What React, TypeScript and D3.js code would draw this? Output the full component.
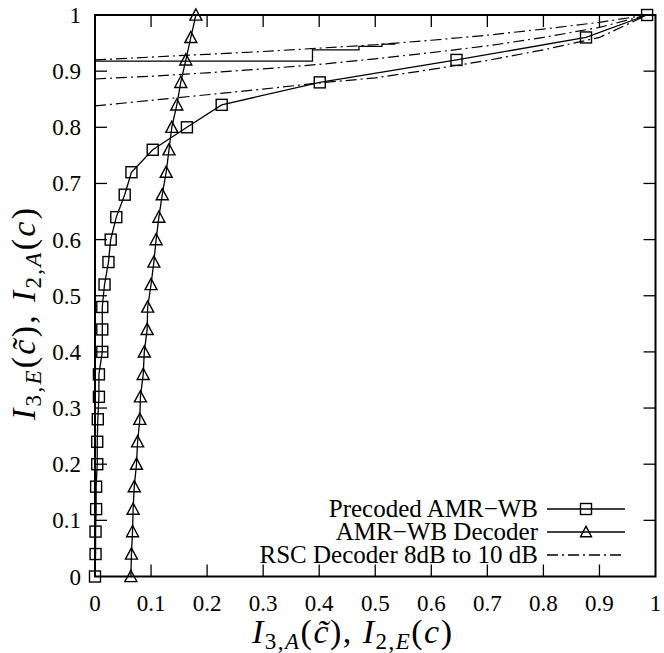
import React from "react";
import * as d3 from "d3";

const W = 664;
const H = 653;

const yLevels = [0, 0.04, 0.08, 0.12, 0.16, 0.2, 0.24, 0.28, 0.32, 0.36, 0.4, 0.44, 0.48, 0.52, 0.56, 0.6, 0.64, 0.68, 0.72, 0.76, 0.8, 0.84, 0.88, 0.92, 0.96, 1.0];
const amrDecoderX = [0.064, 0.065, 0.067, 0.068, 0.070, 0.074, 0.076, 0.080, 0.081, 0.086, 0.088, 0.093, 0.094, 0.100, 0.105, 0.109, 0.114, 0.120, 0.127, 0.132, 0.137, 0.146, 0.153, 0.162, 0.171, 0.180];
const precodedX = [0.000, 0.001, 0.001, 0.002, 0.002, 0.004, 0.004, 0.005, 0.007, 0.007, 0.013, 0.013, 0.013, 0.017, 0.024, 0.028, 0.038, 0.053, 0.065, 0.103, 0.164, 0.226, 0.401, 0.645, 0.876, 0.985];

const rscX = [0, 0.1, 0.2, 0.3, 0.4, 0.5, 0.6, 0.7, 0.8, 0.9, 0.985];
const rsc8dB = [0.838, 0.848, 0.858, 0.868, 0.879, 0.888, 0.903, 0.919, 0.938, 0.960, 1.0];
const rsc9dB = [0.886, 0.891, 0.897, 0.904, 0.912, 0.922, 0.933, 0.945, 0.960, 0.978, 1.0];
const rsc10dB = [0.920, 0.925, 0.930, 0.935, 0.941, 0.947, 0.955, 0.964, 0.975, 0.987, 1.0];

const trajX = [0, 0.388, 0.388, 0.471, 0.471, 0.512, 0.512, 0.536];
const trajY = [0.918, 0.918, 0.938, 0.938, 0.944, 0.944, 0.948, 0.948];

const tickValues = [0, 0.1, 0.2, 0.3, 0.4, 0.5, 0.6, 0.7, 0.8, 0.9, 1];
const tickLabels = ["0", "0.1", "0.2", "0.3", "0.4", "0.5", "0.6", "0.7", "0.8", "0.9", "1"];

const legendLabels = ["Precoded AMR\u2212WB", "AMR\u2212WB Decoder", "RSC Decoder 8dB to 10 dB"];

const FONT = '"Liberation Serif", serif';
const DASH = "11,4,2,4";

const x = d3.scaleLinear().domain([0, 1]).range([95, 655.5]);
const y = d3.scaleLinear().domain([0, 1]).range([576.5, 15]);

type Pt = [number, number];
const line = d3.line<Pt>().x((d) => x(d[0])).y((d) => y(d[1]));

const zip = (a: number[], b: number[]): Pt[] => a.map((v, i) => [v, b[i]] as Pt);

const txt: React.CSSProperties = { fontFamily: FONT };

function Square({ cx, cy, s = 11 }: { cx: number; cy: number; s?: number }) {
  return <rect x={cx - s / 2} y={cy - s / 2} width={s} height={s} fill="none" stroke="#000" strokeWidth={1.4} />;
}
function Triangle({ cx, cy, s = 12 }: { cx: number; cy: number; s?: number }) {
  const h = s * 0.85;
  const p = `${cx},${cy - h / 2 - 1} ${cx - s / 2},${cy + h / 2} ${cx + s / 2},${cy + h / 2}`;
  return <polygon points={p} fill="none" stroke="#000" strokeWidth={1.4} strokeLinejoin="miter" />;
}

function MathTitle({ a, b }: { a: string; b: string }) {
  const sub = 23;
  return (
    <>
      <tspan fontStyle="italic" style={txt}>I</tspan>
      <tspan fontSize={sub} dy={6} style={txt}>3,</tspan>
      <tspan fontSize={sub} fontStyle="italic" style={txt}>{a}</tspan>
      <tspan dy={-6} style={txt}>(</tspan>
      <tspan fontStyle="italic" style={txt}>{"c\u0303"}</tspan>
      <tspan style={txt}>), </tspan>
      <tspan fontStyle="italic" style={txt}>I</tspan>
      <tspan fontSize={sub} dy={6} style={txt}>2,</tspan>
      <tspan fontSize={sub} fontStyle="italic" style={txt}>{b}</tspan>
      <tspan dy={-6} style={txt}>(</tspan>
      <tspan fontStyle="italic" style={txt}>c</tspan>
      <tspan style={txt}>)</tspan>
    </>
  );
}

export default function App() {
  const pre = zip(precodedX, yLevels);
  const amr = zip(amrDecoderX, yLevels);
  const rscs = [rsc8dB, rsc9dB, rsc10dB].map((r) => zip(rscX, r));
  const traj = zip(trajX, trajY);
  const tickLen = 12;
  const [x0, x1] = x.range();
  const [y0, y1] = y.range();

  const legRows = [509, 532, 555];
  const legTextX = 538;
  const legL = 547;
  const legR = 625;
  const legM = (legL + legR) / 2;

  return (
    <svg width={W} height={H} style={{ position: "absolute", left: 0, top: 0, background: "#fff" }}>
      <rect x={0} y={0} width={W} height={H} fill="#fff" />
      {tickValues.map((t, i) => (
        <g key={"t" + i}>
          {i > 0 && i < 10 && (
            <>
              <line x1={x(t)} x2={x(t)} y1={y0} y2={y0 - tickLen} stroke="#000" strokeWidth={1.3} />
              <line x1={x(t)} x2={x(t)} y1={y1} y2={y1 + tickLen} stroke="#000" strokeWidth={1.3} />
              <line x1={x0} x2={x0 + tickLen} y1={y(t)} y2={y(t)} stroke="#000" strokeWidth={1.3} />
              <line x1={x1} x2={x1 - tickLen} y1={y(t)} y2={y(t)} stroke="#000" strokeWidth={1.3} />
            </>
          )}
          <text x={x(t)} y={611} textAnchor="middle" fontSize={23} style={txt}>{tickLabels[i]}</text>
          <text x={81} y={y(t) + 8} textAnchor="end" fontSize={23} style={txt}>{tickLabels[i]}</text>
        </g>
      ))}
      {rscs.map((r, i) => (
        <path key={"r" + i} d={line(r) || ""} fill="none" stroke="#000" strokeWidth={1.2} strokeDasharray={DASH} />
      ))}
      <path d={line(traj) || ""} fill="none" stroke="#000" strokeWidth={1.3} />
      <path d={line(pre) || ""} fill="none" stroke="#000" strokeWidth={1.3} />
      {pre.map((p, i) => <Square key={"s" + i} cx={x(p[0])} cy={y(p[1])} />)}
      <path d={line(amr) || ""} fill="none" stroke="#000" strokeWidth={1.3} />
      {amr.map((p, i) => <Triangle key={"a" + i} cx={x(p[0])} cy={y(p[1])} />)}
      <rect x={x0} y={y1} width={x1 - x0} height={y0 - y1} fill="none" stroke="#000" strokeWidth={2} />
      {legendLabels.map((l, i) => (
        <g key={"l" + i}>
          <text x={legTextX} y={legRows[i] + 8} textAnchor="end" fontSize={25} style={txt}>{l}</text>
          <line x1={legL} x2={legR} y1={legRows[i]} y2={legRows[i]} stroke="#000" strokeWidth={1.3} strokeDasharray={i === 2 ? DASH : undefined} />
          {i === 0 && <Square cx={legM} cy={legRows[i]} />}
          {i === 1 && <Triangle cx={legM} cy={legRows[i]} s={11} />}
        </g>
      ))}
      <text x={252} y={643} fontSize={34} style={txt} textLength={200} lengthAdjust="spacing">
        <MathTitle a="A" b="E" />
      </text>
      <text transform={`translate(35,${420}) rotate(-90)`} fontSize={34} style={txt} textLength={212} lengthAdjust="spacing">
        <MathTitle a="E" b="A" />
      </text>
    </svg>
  );
}
